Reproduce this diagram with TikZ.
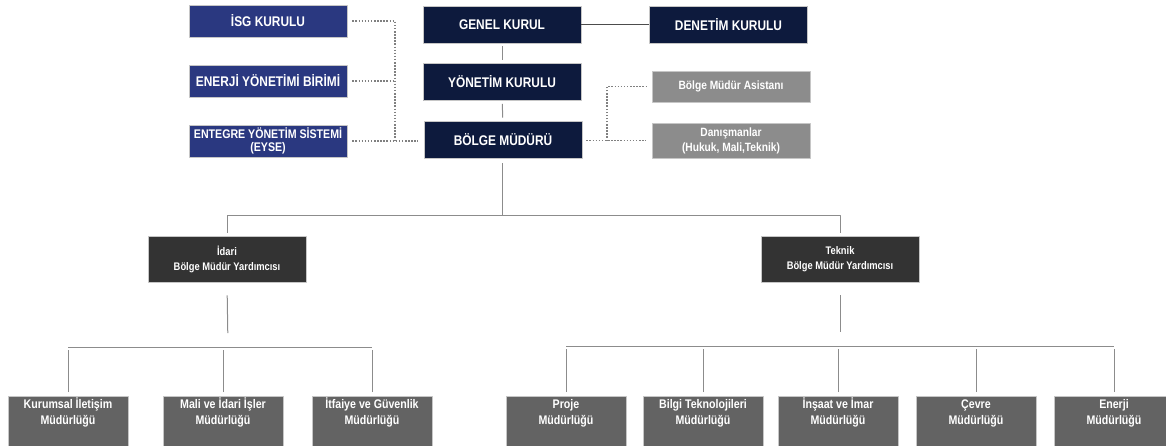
\documentclass[tikz,border=0pt]{standalone}
\usepackage{fontspec}
\setmainfont{Liberation Sans}[FakeStretch=0.85]
\usetikzlibrary{positioning}
\definecolor{navy}{RGB}{13,26,61}
\definecolor{unitblue}{RGB}{42,56,128}
\definecolor{aidgray}{RGB}{140,140,140}
\definecolor{deputygray}{RGB}{51,51,51}
\definecolor{unitgray}{RGB}{99,99,99}
\definecolor{linegray}{RGB}{140,140,140}
\begin{document}
\begin{tikzpicture}[x=1pt, y=-1pt, line join=round,
	box/.style={minimum width=158, minimum height=37, inner sep=1pt, align=center, text=white, draw=gray!45, line width=.6pt},
	board/.style={box, fill=navy, font=\fontsize{14}{15}\selectfont\bfseries},
	unit/.style={box, fill=unitblue, minimum height=32, font=\fontsize{14}{14}\selectfont\bfseries},
	aid/.style={box, fill=aidgray, minimum height=31, font=\fontsize{12}{15}\selectfont\bfseries},
	deputy/.style={box, fill=deputygray, minimum height=46, font=\fontsize{11}{15}\selectfont\bfseries},
	dept/.style={box, fill=unitgray, minimum width=120, minimum height=60, anchor=north},
	depttext/.style={anchor=north, inner sep=0pt, align=center, text=white, font=\fontsize{12.5}{16}\selectfont\bfseries},
	conn/.style={draw=linegray, line width=1pt},
	dotline/.style={draw=gray, line width=1.2pt, dash pattern=on 1.5pt off 1.6pt}]
	\useasboundingbox (0,0) rectangle (1166,445);
	% board and regional director
	\node[board] (genel) at (502,24.5) {GENEL KURUL};
	\node[board] (yonetim) at (502,82) {YÖNETİM KURULU};
	\node[board] (bolge) at (503,139.5) {BÖLGE MÜDÜRÜ};
	\node[board] (denetim) at (728.5,24.5) {DENETİM KURULU};
	% staff units
	\node[unit] (isg) at (268,21) {İSG KURULU};
	\node[unit] (enerji) at (268,81) {ENERJİ YÖNETİMİ BİRİMİ};
	\node[unit, font=\fontsize{12.5}{13.5}\selectfont\bfseries] (entegre) at (268,141) {ENTEGRE YÖNETİM SİSTEMİ\\(EYSE)};
	\node[aid] (asistan) at (731,86.5) {Bölge Müdür Asistanı};
	\node[aid, minimum height=35] (danis) at (731,140.5) {Danışmanlar\\(Hukuk, Mali,Teknik)};
	% deputies
	\node[deputy] (idari) at (227,259) {İdari\\Bölge Müdür Yardımcısı};
	\node[deputy] (teknik) at (840,259) {Teknik\\Bölge Müdür Yardımcısı};
	% departments
	\foreach \n/\x/\t in {kurumsal/68/Kurumsal İletişim,mali/223/Mali ve İdari İşler,itfaiye/372/İtfaiye ve Güvenlik,
		proje/566/Proje,bilgi/703/Bilgi Teknolojileri,insaat/838/İnşaat ve İmar,cevre/976/Çevre,enerjim/1114/Enerji}
		\node[dept, label={[depttext, yshift=-1pt]north:\strut\t\\\strut Müdürlüğü}] (\n) at (\x,396) {};
	\path
	(395,141) coordinate (jl)
	(607,141) coordinate (jr)
	(502,215) coordinate (bus)
	(228,347) coordinate (lbus)
	(840,346) coordinate (rbus)
	;
	% solid lines
	\draw[draw=black!70, line width=1pt] (genel) -- (denetim);
	\draw[conn, shorten <=3pt, shorten >=3pt] (genel) -- (yonetim);
	\draw[conn, shorten <=3pt, shorten >=3pt] (yonetim) -- (bolge);
	\draw[conn, shorten <=5pt] (bolge.south -| bus) -- (bus);
	\draw[conn, shorten <=3pt, shorten >=3pt] (idari.north) -- (idari.north |- bus) -- (teknik.north |- bus) -- (teknik.north);
	\draw[conn, shorten <=13pt, shorten >=14pt] (idari.south) -- (lbus);
	\draw[conn, shorten <=13pt, shorten >=14pt] (teknik.south) -- (rbus);
	\draw[conn] (kurumsal.north |- lbus) -- (itfaiye.north |- lbus);
	\draw[conn] (proje.north |- rbus) -- (enerjim.north |- rbus);
	\foreach \n in {kurumsal,mali,itfaiye}\draw[conn, shorten <=4pt, shorten >=3pt] (\n.north) -- (\n.north |- lbus);
	\foreach \n in {proje,bilgi,insaat,cevre,enerjim}\draw[conn, shorten <=4pt, shorten >=3pt] (\n.north) -- (\n.north |- rbus);
	% dotted links
	\draw[dotline, shorten <=5pt] (isg) -| (jl);
	\draw[dotline, shorten <=5pt] (enerji) -- (enerji -| jl);
	\draw[dotline, shorten <=5pt, shorten >=6pt] (entegre) -- (entegre -| bolge.west);
	\draw[dotline, shorten <=4pt, shorten >=6pt] (bolge.east |- danis) -- (danis);
	\draw[dotline, shorten >=6pt] (jr) |- (asistan);
\end{tikzpicture}
\end{document}
